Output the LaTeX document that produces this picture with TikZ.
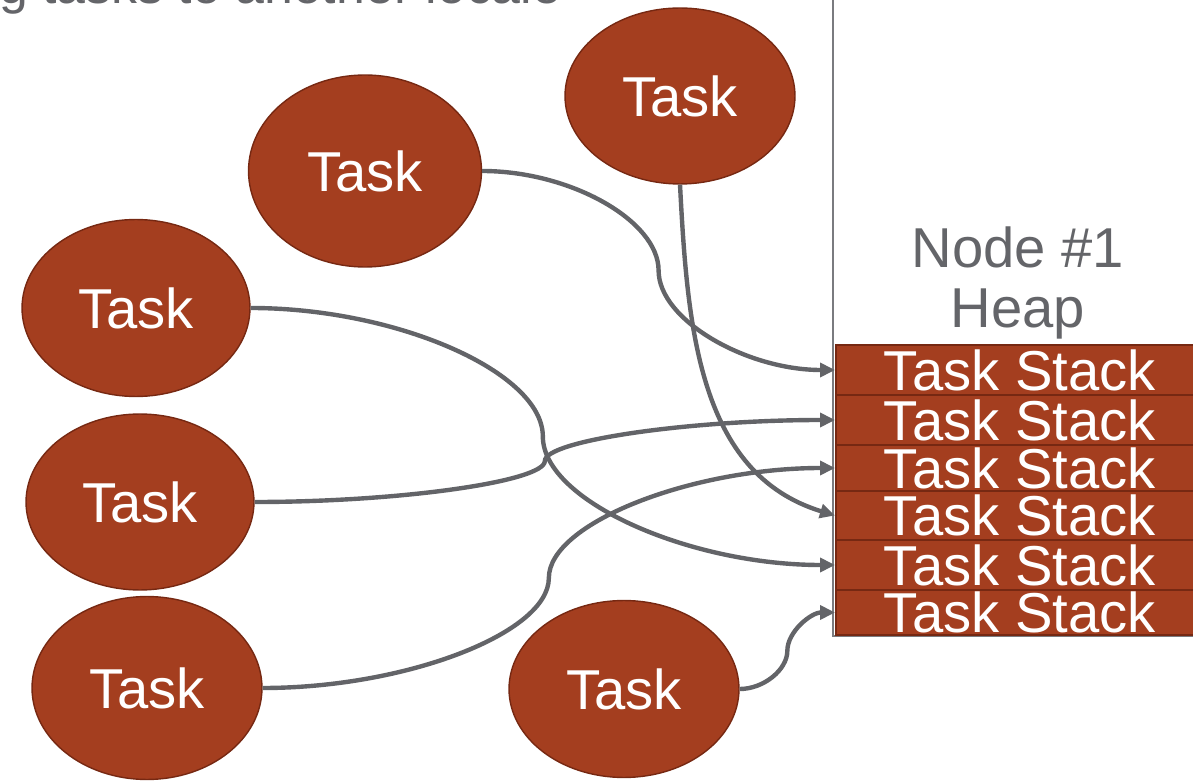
\documentclass[tikz,border=0pt]{standalone}
\usepackage{fontspec}
\setmainfont{Liberation Sans}
\usetikzlibrary{shapes.geometric,arrows.meta,calc}

\definecolor{rust}{RGB}{164,62,31}
\definecolor{rustdark}{RGB}{118,40,18}
\definecolor{wire}{RGB}{99,100,104}
\definecolor{greytext}{RGB}{100,101,105}

\begin{document}
\begin{tikzpicture}
    [
        x = 0.02cm,
        y = -0.02cm,
        task/.style={
            ellipse,
            draw = rustdark,
            fill = rust,
            text = white,
            line width = 0.8pt,
            inner sep = 0pt,
            minimum width = 4.6cm,
            minimum height = 3.52cm,
            font = \fontsize{32}{38}\selectfont
        },
        stackrow/.style={
            rectangle,
            anchor = west,
            draw = rustdark,
            fill = rust,
            text = white,
            line width = 1pt,
            inner sep = 0pt,
            minimum width = 7.36cm,
            font = \fontsize{32}{38}\selectfont
        },
        greylabel/.style={
            text = greytext,
            inner sep = 0pt,
            font = \fontsize{32}{38}\selectfont
        },
        link/.style={
            draw = wire,
            line width = 2.5pt,
            -{Triangle[length=0.3cm,width=0.28cm]}
        },
        % s-shaped connector: two cubics meeting upright half way
        scurve/.style={
            to path={
                let \p1 = (\tikztostart), \p2 = (\tikztotarget) in
                .. controls ({0.75*\x1+0.25*\x2},\y1)
                        and ({0.5*\x1+0.5*\x2},{0.75*\y1+0.25*\y2})
                .. ({0.5*\x1+0.5*\x2},{0.5*\y1+0.5*\y2})
                .. controls ({0.5*\x1+0.5*\x2},{0.25*\y1+0.75*\y2})
                        and ({0.25*\x1+0.75*\x2},\y2)
                .. (\tikztotarget)
            }
        },
    ]
    \useasboundingbox (0,0) rectangle (1193,783);
    \clip (0,0) rectangle (1193,783);

    % title, cut off at the top edge
    \node [greylabel, anchor=base west, font=\fontsize{29.5}{35}\selectfont] (title) at (-1,4) {g tasks to another locale};

    % heap of node 1
    \draw [draw=wire!85, line width=0.9pt] (833,-20) rectangle (1230,636);
    \node [greylabel, anchor=base] (heaptitle) at (1018,268) {Node \#1};
    \node [greylabel, anchor=base] (heapname) at (1018,328) {Heap};

    % the stacks
    \node [stackrow, minimum height=1.00cm] (s1) at (835,370) {Task Stack};
    \node [stackrow, minimum height=1.00cm] (s2) at (835,420) {Task Stack};
    \node [stackrow, minimum height=0.92cm] (s3) at (835,468) {Task Stack};
    \node [stackrow, minimum height=0.98cm] (s4) at (835,515.5) {Task Stack};
    \node [stackrow, minimum height=1.00cm] (s5) at (835,565) {Task Stack};
    \node [stackrow, minimum height=0.90cm] (s6) at (835,612.5) {Task Stack};

    % tasks
    \node [task] (t1) at (680,96) {Task};
    \node [task, minimum width=4.66cm, minimum height=3.84cm] (t2) at (365,171) {Task};
    \node [task, minimum width=4.56cm, minimum height=3.54cm] (t3) at (136,308) {Task};
    \node [task, minimum width=4.56cm] (t4) at (140,502) {Task};
    \node [task, minimum height=3.66cm] (t5) at (147,688) {Task};
    \node [task, minimum height=3.54cm] (t6) at (624,689) {Task};

    % each task onto a stack
    \draw [link] (t2.east) to[scurve] (s1.west);
    \draw [link] (t1.south) to[out=-87, in=163] (s4.west);
    \draw [link] (t3.east) to[scurve] (s5.west);
    \draw [link] (t4.east) to[scurve] (s2.west);
    \draw [link] (t5.east) to[scurve] (s3.west);
    \draw [link] (t6.east) to[scurve] (s6.west);
\end{tikzpicture}
\end{document}
